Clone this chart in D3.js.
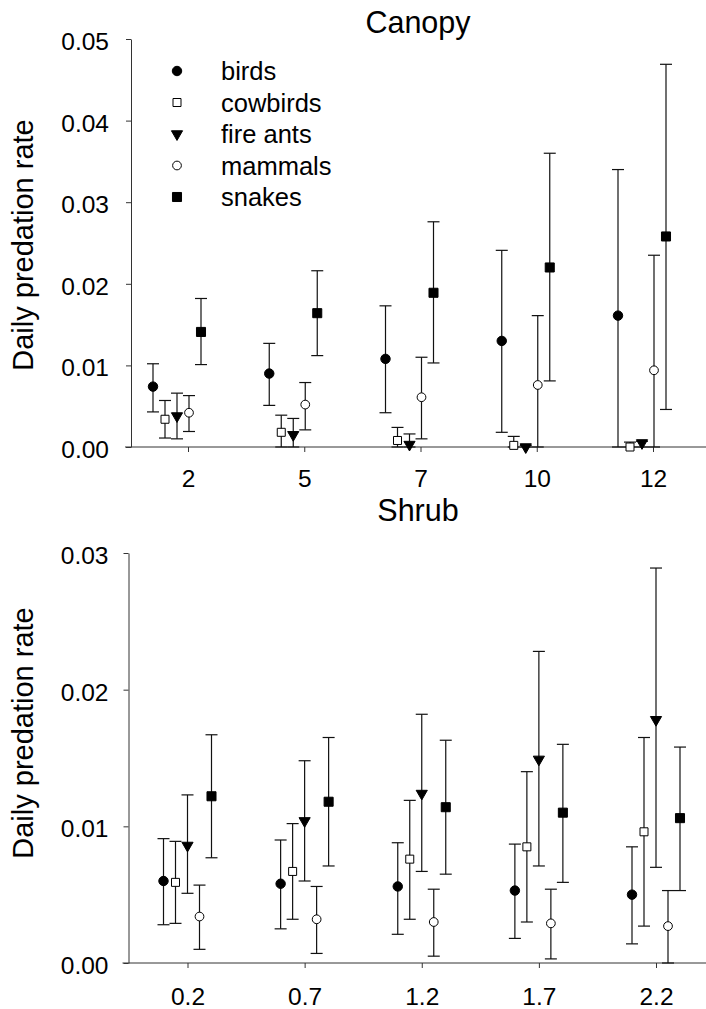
<!DOCTYPE html>
<html><head><meta charset="utf-8">
<script src="https://cdn.jsdelivr.net/npm/d3@7"></script>
<style>
body{margin:0;background:#fff}
svg{display:block}
text{font-family:"Liberation Sans", Arial, Helvetica, sans-serif;fill:#000}
</style>
</head><body>
<svg id="chart" width="706" height="1009"></svg>
<script>
// ---------- data ----------
const series = ["birds", "cowbirds", "fire ants", "mammals", "snakes"];

const canopyCategories = ["2", "5", "7", "10", "12"];
const canopyYTicks = [0, 0.01, 0.02, 0.03, 0.04, 0.05];
// rows = series (birds, cowbirds, fire ants, mammals, snakes), cols = categories
const canopyMean = [
  [0.0074, 0.0090, 0.0108, 0.0130, 0.0161],
  [0.0034, 0.0018, 0.0008, 0.0002, 0.0000],
  [0.0038, 0.0015, 0.0003, 0.0000, 0.0005],
  [0.0042, 0.0052, 0.0061, 0.0076, 0.0094],
  [0.0141, 0.0164, 0.0189, 0.0220, 0.0258]
];
const canopyLower = [
  [0.0043, 0.0051, 0.0042, 0.0018, 0.0000],
  [0.0011, 0.0000, 0.0000, 0.0000, 0.0000],
  [0.0010, 0.0000, 0.0000, 0.0000, 0.0000],
  [0.0019, 0.0021, 0.0010, 0.0000, 0.0000],
  [0.0101, 0.0112, 0.0103, 0.0081, 0.0046]
];
const canopyUpper = [
  [0.0102, 0.0127, 0.0173, 0.0241, 0.0340],
  [0.0057, 0.0039, 0.0024, 0.0013, 0.0006],
  [0.0066, 0.0035, 0.0016, 0.0002, 0.0007],
  [0.0063, 0.0079, 0.0110, 0.0161, 0.0235],
  [0.0182, 0.0216, 0.0276, 0.0360, 0.0469]
];

const shrubCategories = ["0.2", "0.7", "1.2", "1.7", "2.2"];
const shrubYTicks = [0, 0.01, 0.02, 0.03];
const shrubMean = [
  [0.0060, 0.0058, 0.0056, 0.0053, 0.0050],
  [0.0059, 0.0067, 0.0076, 0.0085, 0.0096],
  [0.0086, 0.0104, 0.0124, 0.0149, 0.0178],
  [0.0034, 0.0032, 0.0030, 0.0029, 0.0027],
  [0.0122, 0.0118, 0.0114, 0.0110, 0.0106]
];
const shrubLower = [
  [0.0028, 0.0025, 0.0021, 0.0018, 0.0014],
  [0.0029, 0.0032, 0.0032, 0.0030, 0.0027],
  [0.0051, 0.0060, 0.0067, 0.0071, 0.0070],
  [0.0010, 0.0007, 0.0005, 0.0003, 0.0000],
  [0.0077, 0.0071, 0.0065, 0.0059, 0.0053]
];
const shrubUpper = [
  [0.0091, 0.0090, 0.0088, 0.0087, 0.0085],
  [0.0089, 0.0102, 0.0119, 0.0140, 0.0165],
  [0.0123, 0.0148, 0.0182, 0.0228, 0.0289],
  [0.0057, 0.0056, 0.0054, 0.0054, 0.0053],
  [0.0167, 0.0165, 0.0163, 0.0160, 0.0158]
];

// ---------- drawing ----------
const svg = d3.select("#chart");
const FONT_TICK = 24.5;

const markerDefs = {
  "birds":     {type: d3.symbolCircle,   size: 70, fill: "#000", rot: 0},
  "cowbirds":  {type: d3.symbolSquare,   size: 64, fill: "#fff", rot: 0},
  "fire ants": {type: d3.symbolTriangle, size: 54, fill: "#000", rot: 180},
  "mammals":   {type: d3.symbolCircle,   size: 60, fill: "#fff", rot: 0},
  "snakes":    {type: d3.symbolSquare,   size: 82, fill: "#000", rot: 0}
};

function marker(g, name, x, y) {
  const m = markerDefs[name];
  g.append("path")
    .attr("d", d3.symbol().type(m.type).size(m.size)())
    .attr("transform", `translate(${x},${y}) rotate(${m.rot})`)
    .attr("fill", m.fill)
    .attr("stroke", "#000")
    .attr("stroke-width", 1);
}

function panel(cfg) {
  const g = svg.append("g");
  const x = d3.scalePoint().domain(cfg.categories).range(cfg.xRange);
  const off = d3.scalePoint().domain(series).range(cfg.offRange);
  const y = d3.scaleLinear().domain([0, d3.max(cfg.yTicks)]).range([cfg.y0, cfg.yTop]);

  // y axis
  const ya = g.append("g").attr("transform", `translate(${cfg.axisX},0)`)
    .call(d3.axisLeft(y).tickValues(cfg.yTicks).tickFormat(d3.format(".2f"))
      .tickSize(5).tickSizeOuter(0).tickPadding(cfg.yPad));
  ya.selectAll("path,line").attr("stroke", "#333");
  ya.selectAll("text").attr("font-size", FONT_TICK).attr("dy", "0.43em")
    .style("font-family", '"Liberation Sans", Arial, sans-serif');

  // x axis
  const xa = g.append("g").attr("transform", `translate(0,${cfg.y0})`)
    .call(d3.axisBottom(x).tickSize(5).tickPadding(cfg.xPad));
  xa.select(".domain").remove();
  xa.selectAll("line").attr("stroke", "#333");
  xa.selectAll("text").attr("font-size", FONT_TICK)
    .style("font-family", '"Liberation Sans", Arial, sans-serif');
  g.append("line").attr("x1", cfg.axisX - 6).attr("x2", 706)
    .attr("y1", cfg.y0).attr("y2", cfg.y0).attr("stroke", "#333");

  // error bars + markers
  series.forEach((s, si) => {
    cfg.categories.forEach((c, ci) => {
      const px = x(c) + off(s);
      const lo = y(cfg.lower[si][ci]), hi = y(cfg.upper[si][ci]);
      g.append("line").attr("x1", px).attr("x2", px).attr("y1", lo).attr("y2", hi)
        .attr("stroke", "#111").attr("stroke-width", 1.2);
      [lo, hi].forEach(v => g.append("line").attr("x1", px - 6).attr("x2", px + 6)
        .attr("y1", v).attr("y2", v).attr("stroke", "#111").attr("stroke-width", 1.2));
    });
  });
  series.forEach((s, si) => {
    cfg.categories.forEach((c, ci) => {
      marker(g, s, x(c) + off(s), y(cfg.mean[si][ci]));
    });
  });

  // titles
  g.append("text").attr("x", 418).attr("y", cfg.titleY).attr("text-anchor", "middle")
    .attr("font-size", 30.5).text(cfg.title);
  g.append("text").attr("transform", `translate(33,${cfg.labelY}) rotate(-90)`)
    .attr("text-anchor", "middle").attr("font-size", 29).text("Daily predation rate");
  return {x, y};
}

panel({
  title: "Canopy", titleY: 33, labelY: 245,
  categories: canopyCategories, yTicks: canopyYTicks,
  mean: canopyMean, lower: canopyLower, upper: canopyUpper,
  xRange: [188, 653], offRange: [-35, 13],
  y0: 447, yTop: 39, axisX: 131, yPad: 17, xPad: 18
});

panel({
  title: "Shrub", titleY: 521, labelY: 733,
  categories: shrubCategories, yTicks: shrubYTicks,
  mean: shrubMean, lower: shrubLower, upper: shrubUpper,
  xRange: [187.5, 656], offRange: [-24, 24],
  y0: 963, yTop: 553, axisX: 128.5, yPad: 15, xPad: 20
});

// legend
const legendY = d3.scalePoint().domain(series).range([71, 197]);
const lg = svg.append("g");
series.forEach(s => {
  marker(lg, s, 177, legendY(s));
  lg.append("text").attr("x", 221).attr("y", legendY(s)).attr("dy", "0.36em")
    .attr("font-size", 25.5).text(s);
});
</script>
</body></html>
